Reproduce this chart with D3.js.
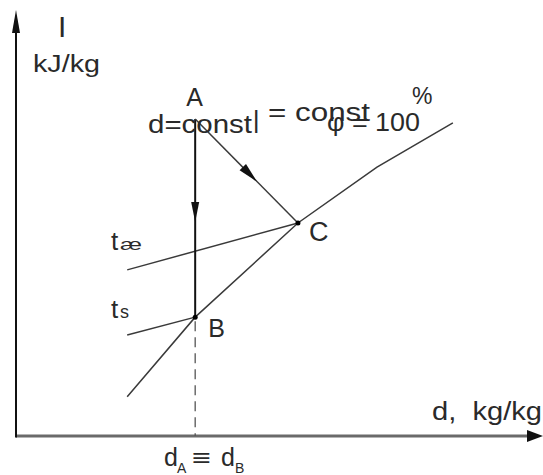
<!doctype html>
<html lang="en">
<head>
  <meta charset="utf-8">
  <title>I-d diagram</title>
  <script src="https://d3js.org/d3.v7.min.js"></script>
  <style>
    body { margin: 0; background: #fff; }
    text { font-family: 'Liberation Sans', Arial, sans-serif; fill: #2a2a2a; white-space: pre; }
  </style>
</head>
<body>
  <div id="chart"></div>
  <script type="text/javascript">
	// state points, d (x) and I (y) in arbitrary chart units 0..100
	var pointNames = ["A", "B", "C"];
	var pointD = [34.0, 34.0, 53.5];
	var pointI = [74.4, 27.9, 50.0];

	// saturation line phi = 100 %
	var satD = [21.1, 34.0, 53.5, 68.5, 82.9];
	var satI = [9.2, 27.9, 50.0, 63.1, 73.5];

	// isotherm stubs (t_ae through C, t_s through B)
	var taeD = [21.1, 53.5], taeI = [39.0, 50.0];
	var tsD = [21.1, 34.0], tsI = [23.7, 27.9];

	var width = 543, height = 475;

	var x = d3.scaleLinear().domain([0, 100]).range([16, 543]);
	var y = d3.scaleLinear().domain([0, 100]).range([436, 10]);

	var svg = d3.select('#chart')
				.append('svg')
				.attr('width', width)
				.attr('height', height);

	var line = d3.line()
				.x(function(p) { return x(p[0]); })
				.y(function(p) { return y(p[1]); });

	function pairs(ds, is) { return ds.map(function(d, i) { return [d, is[i]]; }); }

	//filled arrow head with tip at (px,py) pointing along angle
	function arrowHead(px, py, ang, len, w, fill) {
		var bx = px - len * Math.cos(ang), by = py - len * Math.sin(ang);
		var nx = -Math.sin(ang) * w / 2, ny = Math.cos(ang) * w / 2;
		svg.append('path')
			.attr('d', 'M' + px + ',' + py + 'L' + (bx + nx) + ',' + (by + ny) + 'L' + (bx - nx) + ',' + (by - ny) + 'Z')
			.attr('fill', fill);
	}

	// axes
	svg.append('line')
		.attr('x1', x(0)).attr('y1', y(0)).attr('x2', x(97)).attr('y2', y(0))
		.attr('stroke', '#6a6a6a').attr('stroke-width', 3);
	arrowHead(x(100), y(0), 0, 16, 12, '#111');
	svg.append('line')
		.attr('x1', x(0)).attr('y1', y(0) + 1.5).attr('x2', x(0)).attr('y2', y(95))
		.attr('stroke', '#111').attr('stroke-width', 2);
	arrowHead(x(0), y(100), -Math.PI / 2, 23, 8, '#111');

	// saturation curve and isotherms
	svg.append('path').attr('d', line(pairs(satD, satI)))
		.attr('fill', 'none').attr('stroke', '#3a3a3a').attr('stroke-width', 1.5);
	svg.append('path').attr('d', line(pairs(taeD, taeI)))
		.attr('fill', 'none').attr('stroke', '#3a3a3a').attr('stroke-width', 1.5);
	svg.append('path').attr('d', line(pairs(tsD, tsI)))
		.attr('fill', 'none').attr('stroke', '#3a3a3a').attr('stroke-width', 1.5);

	// dashed d_A = d_B down to the axis
	svg.append('line')
		.attr('x1', x(pointD[1])).attr('y1', y(pointI[1]) + 4)
		.attr('x2', x(pointD[1])).attr('y2', y(0))
		.attr('stroke', '#555').attr('stroke-width', 1.3)
		.attr('stroke-dasharray', '10,6');

	// process A -> B (d = const)
	svg.append('line')
		.attr('x1', x(pointD[0])).attr('y1', y(pointI[0]))
		.attr('x2', x(pointD[1])).attr('y2', y(pointI[1]))
		.attr('stroke', '#111').attr('stroke-width', 2);
	var fAB = 0.52;
	arrowHead(x(pointD[0]), y(pointI[0]) + fAB * (y(pointI[1]) - y(pointI[0])), Math.PI / 2, 20, 8, '#111');

	// process A -> C (I = const)
	svg.append('line')
		.attr('x1', x(pointD[0])).attr('y1', y(pointI[0]))
		.attr('x2', x(pointD[2])).attr('y2', y(pointI[2]))
		.attr('stroke', '#3a3a3a').attr('stroke-width', 1.5);
	var fAC = 0.6;
	var ax0 = x(pointD[0]), ay0 = y(pointI[0]), ax1 = x(pointD[2]), ay1 = y(pointI[2]);
	arrowHead(ax0 + fAC * (ax1 - ax0), ay0 + fAC * (ay1 - ay0), Math.atan2(ay1 - ay0, ax1 - ax0), 20, 9, '#111');

	// state points
	svg.selectAll('.pt')
		.data(pointNames.slice(1))
		.enter()
		.append('circle')
		.attr('class', 'pt')
		.attr('cx', function(d, i) { return x(pointD[i + 1]); })
		.attr('cy', function(d, i) { return y(pointI[i + 1]); })
		.attr('r', 2.5)
		.attr('fill', '#000');

	//labels
	function label(str, px, py, size, len) {
		var t = svg.append('text').attr('x', px).attr('y', py).style('font-size', size + 'px').text(str);
		if (len) t.attr('textLength', len).attr('lengthAdjust', 'spacingAndGlyphs');
		return t;
	}

	label('I', 58, 37, 30);
	label('kJ/kg', 33, 72, 23, 67);

	label('A', x(pointD[0]) - 9, 106, 25);
	label('B', x(pointD[1]) + 13, y(pointI[1]) + 20, 25);
	label('C', x(pointD[2]) + 11, y(pointI[2]) + 18, 27);

	label('d=const', 148, 133, 25, 104);
	svg.append('text')
		.attr('transform', 'translate(253,133) scale(1,1.45)')
		.style('font-size', '23px').text('I');
	label('= const', 268, 121, 25, 102);
	label('\u03c6 = 100', 327, 131, 25, 93);
	label('%', 412, 104, 23);

	label('t', 111, 250, 26);
	label('\u00e6', 120, 250, 17, 22);
	label('t', 111, 318, 26);
	label('s', 120, 318, 18);

	label('d,  kg/kg', 432, 420, 25, 110);

	label('d', 164, 466, 25);
	label('A', 177, 473, 14);
	label('\u2261', 192, 466, 24, 19);
	label('d', 221, 466, 25);
	label('B', 235, 473, 14);
  </script>
</body>
</html>
